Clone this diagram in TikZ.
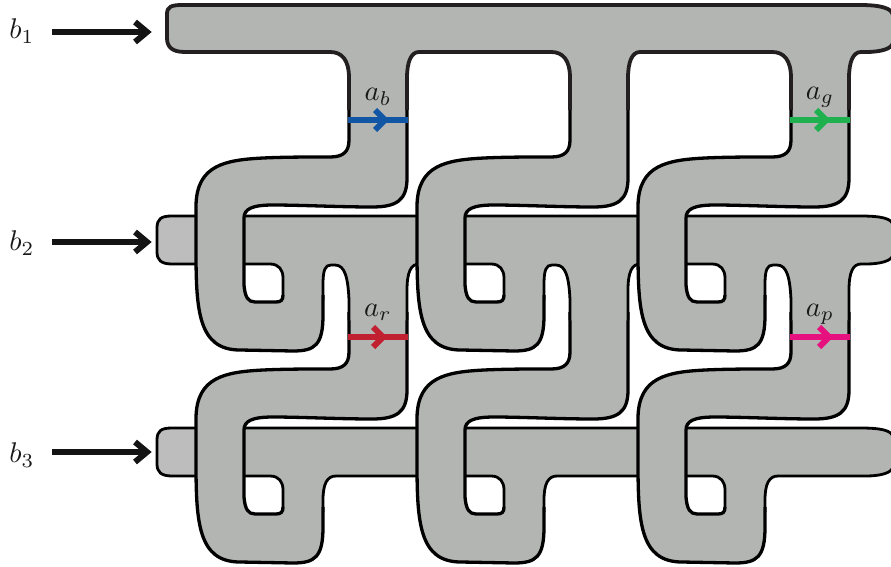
\documentclass[tikz,border=0pt]{standalone}
\usetikzlibrary{calc}
\definecolor{bandgrey}{HTML}{B3B5B3}
\definecolor{stubgrey}{HTML}{BDBDBD}
\definecolor{inkdark}{HTML}{231F20}
\definecolor{cblue}{HTML}{1155A5}
\definecolor{cgreen}{HTML}{1FB14F}
\definecolor{cred}{HTML}{C0202F}
\definecolor{cpink}{HTML}{E6107E}
\tikzset{
  edge/.style={draw=black,line width=3.3pt,line join=round},
  baredge/.style={draw=black,line width=2.8pt,line join=round},
  topedge/.style={draw=inkdark,line width=3.8pt,line join=round},
  band/.style={fill=bandgrey},
  lab/.style={inner sep=0pt,scale=2.85,text=black!90},
  inarrow/.style={draw=black!92,line width=5.3pt},
  inhead/.style={draw=black!92,line width=6pt,miter limit=10},
  chord/.style={line width=6.2pt},
  chevron/.style={line width=6pt,miter limit=10}
}
% S-shaped hook, both edges
\def\hookouter{(349,100) -- (349,140) .. controls (349,152) and (343,157) .. (330,157) .. controls (305,157) and (285,157) .. (263,158) .. controls (225,160) and (197,165) .. (196,205) -- (196,250) .. controls (196,310) and (198,350) .. (240,350) -- (293,351) .. controls (315,351) and (323,345) .. (323,315) -- (323,295)}
\def\hookinner{(283,295) .. controls (283,300) and (281,302) .. (276,302) -- (255,302) .. controls (248,302) and (245,297) .. (244,285) -- (244,218) .. controls (244,209) and (252,205) .. (273,205) .. controls (300,205) and (340,207) .. (372,207) .. controls (397,207) and (407,200) .. (407,178) -- (407,100)}
\newcommand{\hookat}[2]{%
  \begin{scope}[shift={(#1,#2)}]
    \fill[band] \hookouter -- \hookinner -- cycle;
    \draw[edge] \hookouter;
    \draw[edge] \hookinner;
  \end{scope}}
% Bar 1 outline pieces
\def\oneA{(349,110) -- (349,78) .. controls (349,60) and (342,52) .. (330,52) -- (185,52) .. controls (172,52) and (167,47) .. (167,38) -- (167,14) .. controls (167,7) and (171,5) .. (182,5) -- (860,5) .. controls (880,5) and (893,8) .. (893,16) -- (893,42) .. controls (893,49) and (880,52) .. (866,52) -- (861,52) .. controls (853,52) and (849,62) .. (849,78) -- (849,110)}
\def\oneB{(791,110) -- (791,78) .. controls (791,60) and (784,52) .. (772,52) -- (640,52) .. controls (632,52) and (628,62) .. (628,78) -- (628,110)}
\def\oneC{(570,110) -- (570,78) .. controls (570,60) and (563,52) .. (551,52) -- (419,52) .. controls (411,52) and (407,62) .. (407,78) -- (407,110)}
% Bar 2 outline pieces
\def\twoA{(283,300) -- (283,278) .. controls (283,270) and (279,264) .. (270,264) -- (172,264) .. controls (161,264) and (157,260) .. (157,252) -- (157,228) .. controls (157,219) and (161,216) .. (172,216) -- (860,216) .. controls (880,216) and (893,218) .. (893,226) -- (893,254) .. controls (893,261) and (880,264) .. (866,264) -- (861,264) .. controls (853,264) and (849,272) .. (849,290) -- (849,320)}
\def\archtwo#1{(#1+349,320) -- (#1+349,300) .. controls (#1+348,278) and (#1+345,265) .. (#1+335,265) -- (#1+331,265) .. controls (#1+325,265) and (#1+323,270) .. (#1+323,285) -- (#1+323,300)}
\def\twoB{\archtwo{442}}
\def\twoC{(725,300) -- (725,278) .. controls (725,270) and (721,264) .. (712,264) -- (640,264) .. controls (632,264) and (628,272) .. (628,290) -- (628,320)}
\def\twoD{\archtwo{221}}
\def\twoE{(504,300) -- (504,278) .. controls (504,270) and (500,264) .. (491,264) -- (419,264) .. controls (411,264) and (407,272) .. (407,290) -- (407,320)}
\def\twoF{\archtwo{0}}
% Bar 3 outline pieces
\def\threeA{(283,512) -- (283,490) .. controls (283,482) and (279,476) .. (270,476) -- (172,476) .. controls (161,476) and (157,472) .. (157,464) -- (157,440) .. controls (157,431) and (161,428) .. (172,428) -- (860,428) .. controls (880,428) and (893,430) .. (893,438) -- (893,466) .. controls (893,473) and (880,476) .. (866,476) -- (778,476) .. controls (769,476) and (765,484) .. (765,500) -- (765,512)}
\def\threeB{(725,512) -- (725,490) .. controls (725,482) and (721,476) .. (712,476) -- (557,476) .. controls (548,476) and (544,484) .. (544,500) -- (544,512)}
\def\threeC{(504,512) -- (504,490) .. controls (504,482) and (500,476) .. (491,476) -- (336,476) .. controls (327,476) and (323,484) .. (323,500) -- (323,512)}
\begin{document}
\begin{tikzpicture}[x=1pt,y=-1pt]
\useasboundingbox (0,0) rectangle (891,567);
% Bar 3
\fill[band] \threeA -- \threeB -- \threeC -- cycle;
\begin{scope}\clip (150,420) rectangle (200,482);
\fill[stubgrey] \threeA -- \threeB -- \threeC -- cycle;
\end{scope}
\draw[baredge] \threeA; \draw[baredge] \threeB; \draw[baredge] \threeC;
\hookat{0}{212}\hookat{221}{212}\hookat{442}{212}
% Bar 2
\fill[band] \twoA -- \twoB -- \twoC -- \twoD -- \twoE -- \twoF -- cycle;
\begin{scope}\clip (150,208) rectangle (200,270);
\fill[stubgrey] \twoA -- \twoB -- \twoC -- \twoD -- \twoE -- \twoF -- cycle;
\end{scope}
\draw[baredge] \twoA; \draw[baredge] \twoB; \draw[baredge] \twoC;
\draw[baredge] \twoD; \draw[baredge] \twoE; \draw[baredge] \twoF;
\hookat{0}{0}\hookat{221}{0}\hookat{442}{0}
% Bar 1
\fill[band] \oneA -- \oneB -- \oneC -- cycle;
\draw[topedge] \oneA; \draw[topedge] \oneB; \draw[topedge] \oneC;
% Labels
\node[lab] (b1) at (22,31) {$b_1$};
\node[lab] (b2) at (22,243) {$b_2$};
\node[lab] (b3) at (22,455) {$b_3$};
\node[lab] (ab) at (378,97) {$a_b$};
\node[lab] (ag) at (820,97) {$a_g$};
\node[lab] (ar) at (378,312) {$a_r$};
\node[lab] (ap) at (820,314) {$a_p$};
% Input arrows
\foreach \n/\yy in {1/32,2/242,3/452}{
  \coordinate (s\n) at (52,\yy);
  \coordinate (e\n) at (147,\yy);
  \draw[inarrow] (s\n) -- (e\n);
  \draw[inhead] ($(e\n)+(-12,-10)$) -- (e\n) -- ($(e\n)+(-12,10)$);
}
% Coloured chords
\foreach \n/\xa/\xb/\xt/\yy/\cc in {b/348/408/385/120/cblue,g/790/850/826/120/cgreen,r/348/408/383/337/cred,p/790/850/829/337/cpink}{
  \coordinate (l\n) at (\xa,\yy);
  \coordinate (r\n) at (\xb,\yy);
  \coordinate (t\n) at (\xt,\yy);
  \draw[chord,draw=\cc] (l\n) -- (r\n);
  \draw[chevron,draw=\cc] ($(t\n)+(-10,-10)$) -- (t\n) -- ($(t\n)+(-10,10)$);
}
\end{tikzpicture}
\end{document}
